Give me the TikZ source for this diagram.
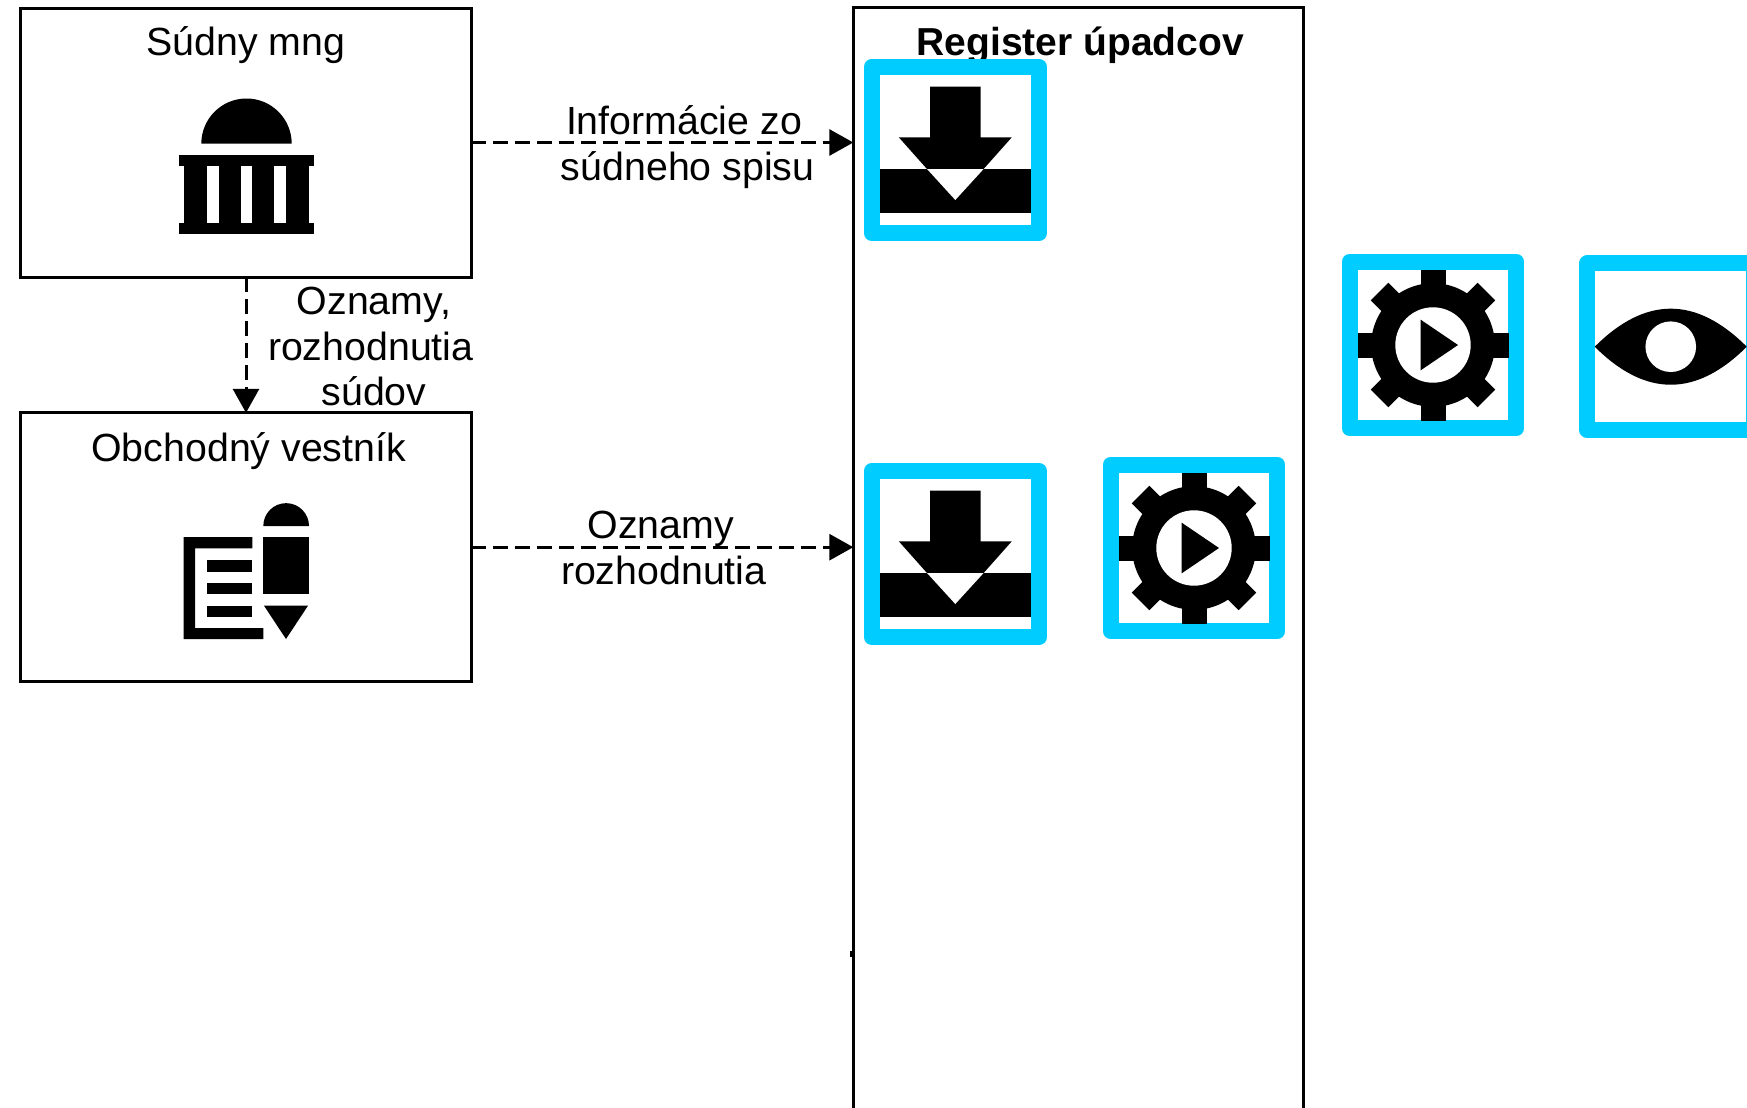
\documentclass[tikz,border=0pt]{standalone}
\usepackage{fontspec}
\setmainfont{Liberation Sans}
\usetikzlibrary{arrows.meta}
\definecolor{framecyan}{HTML}{00CCFF}
\tikzset{
  boxnode/.style={draw=black,line width=1.5pt,fill=white,inner sep=0pt,outer sep=0pt},
  lbl/.style={anchor=base,inner sep=0pt,outer sep=0pt,font=\fontsize{19.65}{23}\selectfont},
  boldlbl/.style={anchor=base,inner sep=0pt,outer sep=0pt,font=\fontsize{19.5}{23}\selectfont\bfseries},
  iconframe/.style={draw=framecyan,fill=white,line width=8pt,line join=round,minimum size=83.4pt,inner sep=0pt,outer sep=0pt},
  flow/.style={line width=1.5pt,dash pattern=on 7.5pt off 3.5pt,-{Triangle[length=12pt,width=13pt]}},
  glyph/.style={fill=black,draw=none},
  hole/.style={fill=white,draw=none},
  download/.pic={
    \fill[glyph] (-25.3,-63.3) -- (25.3,-63.3) -- (25.3,-12.7) -- (56.5,-12.7) -- (28.3,19) -- (-28.3,19) -- (-56.5,-12.7) -- (-25.3,-12.7) -- cycle;
    \fill[glyph] (-75.6,19) rectangle (75.6,63);
    \fill[hole] (-28.3,19) -- (28.3,19) -- (0,50) -- cycle;
  },
  gearplay/.pic={
    \foreach \a in {0,45,...,315} {\fill[glyph,rotate=\a] (-12.5,-75.5) rectangle (12.5,0);}
    \fill[glyph] (0,0) circle[radius=61.8];
    \fill[hole] (0,0) circle[radius=37.7];
    \fill[glyph] (-12.3,-25.3) -- (25,0) -- (-12.3,25.3) -- cycle;
  },
  eyeglyph/.pic={
    \fill[glyph] (-76,0) .. controls (-25.3,-50.7) and (25.3,-50.7) .. (76,0) .. controls (25.3,50.7) and (-25.3,50.7) .. (-76,0) -- cycle;
    \fill[hole] (0,0) circle[radius=25.3];
  }
}
\begin{document}
\begin{tikzpicture}[x=0.5pt,y=-0.5pt]
\useasboundingbox (0,0) rectangle (1747,1108);
\clip (0,0) rectangle (1747,1108);
\fill[white] (0,0) rectangle (1747,1108);

% boxes
\node[boxnode,minimum width=225.3pt,minimum height=134.5pt] (court) at (246,142.5) {};
\node[boxnode,minimum width=225.3pt,minimum height=134.4pt] (bulletin) at (246,547.2) {};
\node[boxnode,minimum width=225pt,minimum height=565pt] (register) at (1078.3,572.5) {};
\fill[black] (850,950.5) rectangle (853,957);

% titles
\node[lbl] (courttitle) at (246,55) {Súdny mng};
\node[lbl] (bulletintitle) at (248.7,461) {Obchodný vestník};
\node[boldlbl] (registertitle) at (1080.3,55) {Register úpadcov};

% connectors
\draw[flow] (court.east) -- (court.east -| register.west);
\draw[flow] (bulletin.east) -- (bulletin.east -| register.west);
\draw[flow] (court.south) -- (bulletin.north);

% connector labels
\node[lbl] (la) at (684,134.3) {Informácie zo};
\node[lbl] (lb) at (687.7,180) {súdneho spisu};
\node[lbl] (lc) at (374,314.3) {Oznamy,};
\node[lbl] (ld) at (370.7,360) {rozhodnutia};
\node[lbl] (le) at (374,405.5) {súdov};
\node[lbl] (lf) at (660.7,538.3) {Oznamy};
\node[lbl] (lg) at (663.7,584.8) {rozhodnutia};

% building icon
\fill[glyph] (201.3,143.7) arc[start angle=180,end angle=360,radius=45.2] -- cycle;
\fill[glyph] (179,155) rectangle (314,166);
\fill[glyph] (184,166) rectangle (309.3,223);
\fill[glyph] (179,223) rectangle (314,234.3);
\fill[hole] (207.3,166) rectangle (218.7,223);
\fill[hole] (240.7,166) rectangle (252.3,223);
\fill[hole] (274.3,166) rectangle (286,223);

% newspaper and pencil icon
\fill[glyph] (263.3,526) arc[start angle=180,end angle=360,radius=22.85] -- cycle;
\fill[glyph] (263.3,537) rectangle (309,594.3);
\fill[glyph] (264,605.7) -- (308,605.7) -- (286,639) -- cycle;
\fill[glyph] (183.7,537) -- (252.3,537) -- (252.3,548.3) -- (195,548.3) -- (195,628) -- (263.3,628) -- (263.3,639) -- (183.7,639) -- cycle;
\fill[glyph] (207.3,560) rectangle (252.3,572);
\fill[glyph] (207.3,583.3) rectangle (252.3,594.3);
\fill[glyph] (207.3,605.7) rectangle (252.3,616.7);

% icon frames
\node[iconframe] (dla) at (955.3,150) {};
\node[iconframe] (dlb) at (955.3,554) {};
\node[iconframe] (gra) at (1194,548) {};
\node[iconframe] (grb) at (1433,345) {};
\node[iconframe] (eye) at (1670.75,346.7) {};
\pic at (dla) {download};
\pic at (dlb) {download};
\pic at (gra) {gearplay};
\pic at (grb) {gearplay};
\pic at (eye) {eyeglyph};
\end{tikzpicture}
\end{document}
